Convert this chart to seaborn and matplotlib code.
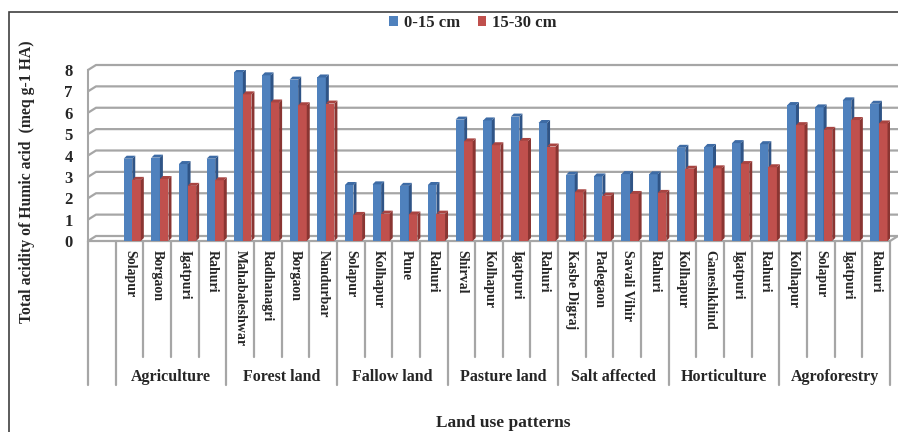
import numpy as np
import pandas as pd
import matplotlib
matplotlib.use("Agg")
import matplotlib.pyplot as plt
from matplotlib.patches import Patch, Polygon, Rectangle
import seaborn as sns

# ---------------- data ----------------
groups = ["Agriculture", "Forest land", "Fallow land", "Pasture land",
          "Salt affected", "Horticulture", "Agroforestry"]
sites = [
    ["Solapur", "Borgaon", "Igatpuri", "Rahuri"],
    ["Mahabaleshwar", "Radhanagri", "Borgaon", "Nandurbar"],
    ["Solapur", "Kolhapur", "Pune", "Rahuri"],
    ["Shirval", "Kolhapur", "Igatpuri", "Rahuri"],
    ["Kasbe Digraj", "Padegaon", "Savali Vihir", "Rahuri"],
    ["Kolhapur", "Ganeshkhind", "Igatpuri", "Rahuri"],
    ["Kolhapur", "Solapur", "Igatpuri", "Rahuri"],
]
depths = ["0-15 cm", "15-30 cm"]
vals_0_15 = [3.85, 3.90, 3.60, 3.85,
             7.90, 7.75, 7.55, 7.65,
             2.62, 2.65, 2.58, 2.62,
             5.68, 5.64, 5.82, 5.52,
             3.10, 3.02, 3.13, 3.12,
             4.36, 4.40, 4.58, 4.53,
             6.36, 6.25, 6.58, 6.42]
vals_15_30 = [2.86, 2.90, 2.58, 2.84,
              6.86, 6.48, 6.35, 6.43,
              1.22, 1.28, 1.24, 1.28,
              4.66, 4.48, 4.68, 4.42,
              2.28, 2.12, 2.20, 2.25,
              3.38, 3.40, 3.60, 3.45,
              5.42, 5.20, 5.66, 5.50]

flat_sites = [s for g in sites for s in g]
flat_groups = [g for g, ss in zip(groups, sites) for _ in ss]
keys = [f"{g}|{s}" for g, s in zip(flat_groups, flat_sites)]

df = pd.DataFrame({
    "key": keys * 2,
    "depth": [depths[0]] * len(keys) + [depths[1]] * len(keys),
    "value": vals_0_15 + vals_15_30,
})

blue, red = "#4F81BD", "#C0504D"
blue_side, red_side = "#2F5486", "#8A3532"
blue_top, red_top = "#3D6BA5", "#A84441"
grid_c = "#A6A6A6"

sns.set_style("white")
plt.rcParams["font.family"] = ["Liberation Serif", "DejaVu Serif"]
plt.rcParams["font.weight"] = "bold"

W, H = 898, 432
fig = plt.figure(figsize=(W / 100, H / 100), dpi=100)
x_left, x_right, y_top, y_bot = 88, 890, 70, 241
ax = fig.add_axes([x_left / W, 1 - y_bot / H, (x_right - x_left) / W, (y_bot - y_top) / H])

sns.barplot(data=df, x="key", y="value", hue="depth", order=keys,
            hue_order=depths, palette=[blue, red], width=0.62,
            saturation=1, edgecolor="none", linewidth=0, legend=False, ax=ax)

n = len(keys)
ax.set_xlim(-1.5, n - 0.5)
ax.set_ylim(0, 8)
for s in ax.spines.values():
    s.set_visible(False)
ax.spines["left"].set_visible(True)
ax.spines["left"].set_color(grid_c)
ax.spines["left"].set_linewidth(1.5)
ax.set_xlabel("")
ax.set_ylabel("")
ax.set_yticks(range(0, 9))
ax.tick_params(axis="y", length=4, width=1.5, color=grid_c, labelsize=12, pad=7)
for t in ax.get_yticklabels():
    t.set_fontweight("bold")
ax.set_xticks([])

# pixel -> data scale
sx = (x_right - x_left) / (n + 1)
sy = (y_bot - y_top) / 8.0

# 3D back-wall gridlines
dxg, dyg = 8 / sx, 5 / sy
for v in range(0, 9):
    ax.plot([-1.5, -1.5 + dxg, n - 0.5 + dxg], [v, v + dyg, v + dyg],
            color=grid_c, lw=1.6, clip_on=False, zorder=0.5, solid_capstyle="butt")
# floor front edge and right diagonal
ax.plot([-1.5, n - 0.5, n - 0.5 + dxg], [0, 0, dyg], color=grid_c, lw=1.6,
        clip_on=False, zorder=0.6)

# 3D bar faces
dxd, dyd = 3 / sx, 3 / sy
for hi, (cont, sidec, topc) in enumerate(zip(ax.containers, [blue_side, red_side], [blue_top, red_top])):
    for p in cont.patches:
        x0 = p.get_x() + 0.1
        p.set_x(x0)
        w = p.get_width()
        h = p.get_height()
        x1 = x0 + w
        z = 2 + hi * 2
        p.set_zorder(z)
        side = Polygon([(x1, 0), (x1 + dxd, dyd), (x1 + dxd, h + dyd), (x1, h)],
                       closed=True, facecolor=sidec, edgecolor="none", zorder=z + 0.5)
        top = Polygon([(x0, h), (x1, h), (x1 + dxd, h + dyd), (x0 + dxd, h + dyd)],
                      closed=True, facecolor=topc, edgecolor="none", zorder=z + 0.5)
        ax.add_patch(side)
        ax.add_patch(top)

# category separators and labels
xt = ax.get_xaxis_transform()
short_y = -(357 - y_bot) / (y_bot - y_top)
long_y = -(385 - y_bot) / (y_bot - y_top)
long_bounds = {-1.5, -0.5} | {4 * k - 0.5 for k in range(1, 8)}
for b in np.arange(-1.5, n, 1.0):
    yb = long_y if b in long_bounds else short_y
    ax.plot([b, b], [0, yb], transform=xt, color=grid_c, lw=1.6, clip_on=False)

lab_y = -(250 - y_bot) / (y_bot - y_top)
for i, s in enumerate(flat_sites):
    ax.text(i, lab_y, s, transform=xt, rotation=270, ha="center", va="top",
            fontsize=10, fontweight="bold")

grp_y = -(377 - y_bot) / (y_bot - y_top)
for k, g in enumerate(groups):
    ax.text(4 * k + 1.5, grp_y, g, transform=xt, ha="center", va="center",
            fontsize=11.5, fontweight="bold")

# axis titles
fig.text(27 / W, 1 - 182 / H, "Total acidity of Humic acid  (meq g-1 HA)",
         rotation=90, ha="center", va="center", fontsize=11.3, fontweight="bold")
fig.text(503 / W, 1 - 423 / H, "Land use patterns", ha="center", va="center",
         fontsize=12.5, fontweight="bold")

# legend
handles = [Patch(facecolor=blue, edgecolor="none"), Patch(facecolor=red, edgecolor="none")]
fig.legend(handles, depths, loc="center", bbox_to_anchor=(473 / W, 1 - 23 / H),
           ncol=2, frameon=False, handlelength=0.5, handleheight=0.5,
           handletextpad=0.35, columnspacing=1.1,
           prop={"size": 12, "weight": "bold"})

# chart border
fig.add_artist(Rectangle((9 / W, -0.1), 1.0, 1 - 12 / H + 0.1, transform=fig.transFigure,
                         fill=False, edgecolor="#404040", lw=1.2))

fig.savefig("out.png", dpi=100)
